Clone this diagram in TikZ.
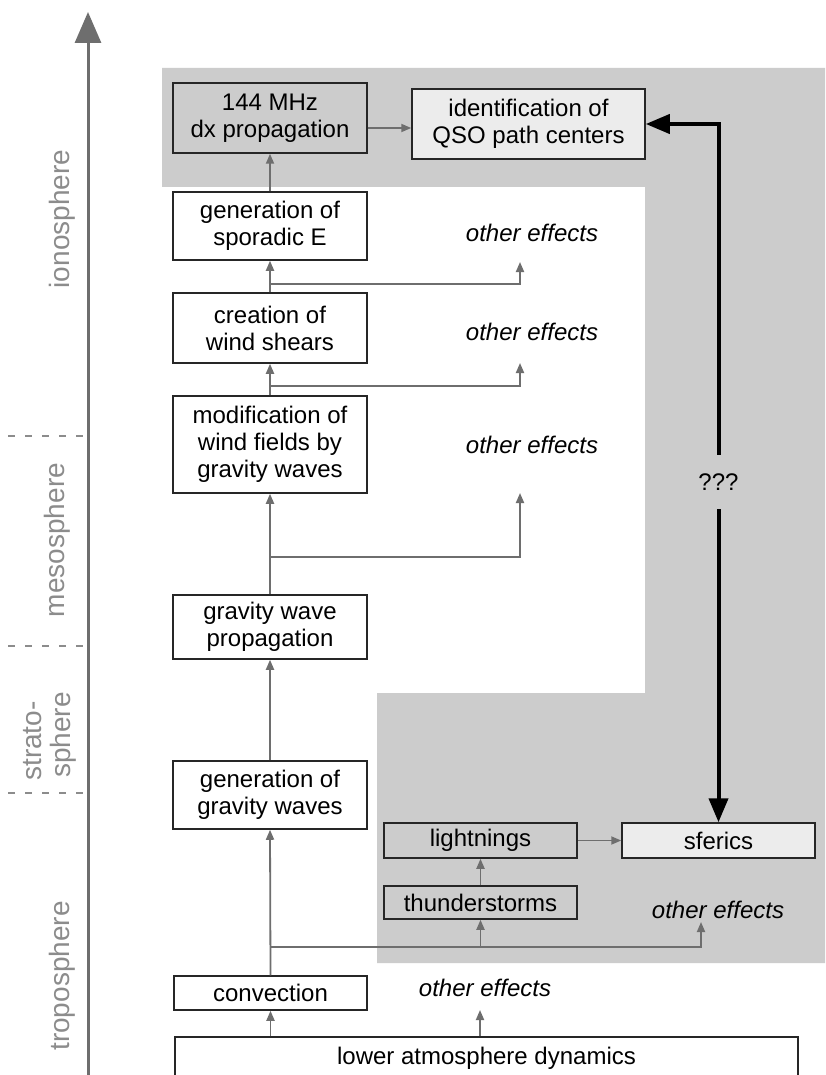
\documentclass[tikz,border=0pt]{standalone}
\usepackage{fontspec}
\setmainfont{Liberation Sans}
\usetikzlibrary{arrows.meta}
\definecolor{bg}{HTML}{CCCCCC}
\definecolor{lite}{HTML}{ECECEC}
\definecolor{agray}{HTML}{6E6E6E}
\definecolor{lgray}{HTML}{8C8C8C}
\begin{document}
\begin{tikzpicture}[x=1pt,y=-1pt,
 box/.style={draw=black!85,line width=1.5pt,fill=white,align=center,inner sep=0pt,font=\fontsize{24}{27}\selectfont},
 oe/.style={font=\fontsize{24}{27}\selectfont\itshape,inner sep=0pt},
 conn/.style={draw=agray,line width=1.8pt,-{Triangle[length=10pt,width=8pt]}},
 layer/.style={font=\fontsize{28}{30}\selectfont,text=lgray,rotate=90,inner sep=0pt},
 sep/.style={draw=lgray,line width=1.4pt,dash pattern=on 7pt off 10pt},
 blk/.style={draw=black,line width=4pt,{Triangle[length=24pt,width=19pt]}-{Triangle[length=24pt,width=19pt]}}
]
\useasboundingbox (0,0) rectangle (825,1075);
\fill[white] (0,0) rectangle (825,1075);
% gray regions
\fill[bg] (162,68) -- (825,68) -- (825,963) -- (377,963) -- (377,693) -- (645,693) -- (645,187) -- (162,187) -- cycle;

% axis
\coordinate (ax0) at (88,1078);
\coordinate (ax1) at (88,12);
\draw[line width=3pt,agray,-{Triangle[length=31pt,width=26pt]}] (ax0) -- (ax1);
\coordinate (d1a) at (8,436); \coordinate (d1b) at (88,436);
\coordinate (d2a) at (8,646); \coordinate (d2b) at (88,646);
\coordinate (d3a) at (8,793); \coordinate (d3b) at (88,793);
\draw[sep] (d1a) -- (d1b);
\draw[sep] (d2a) -- (d2b);
\draw[sep] (d3a) -- (d3b);
\node[layer] (l1) at (62,219) {ionosphere};
\node[layer] (l2) at (57,540) {mesosphere};
\node[layer] (l3a) at (33,741) {strato-};
\node[layer] (l3b) at (63,735) {sphere};
\node[layer] (l4) at (62,976) {troposphere};

% boxes
\node[box,fill=bg,minimum width=194pt,minimum height=70pt] (pm) at (270,118) {144 MHz\\dx propagation};
\node[box,fill=lite,minimum width=233pt,minimum height=70pt] (id) at (528.5,124) {identification of\\QSO path centers};
\node[box,minimum width=194pt,minimum height=68pt] (se) at (270,226) {generation of\\sporadic E};
\node[box,minimum width=194pt,minimum height=70pt] (ws) at (270,328) {creation of\\wind shears};
\node[box,minimum width=194pt,minimum height=97pt] (mf) at (270,444.5) {modification of\\wind fields by\\gravity waves};
\node[box,minimum width=194pt,minimum height=64pt] (gp) at (270,627) {gravity wave\\propagation};
\node[box,minimum width=194pt,minimum height=68pt] (gg) at (270,795) {generation of\\gravity waves};
\node[box,fill=bg,minimum width=193pt,minimum height=35pt] (lt) at (480.5,840.5) {lightnings};
\node[box,fill=lite,minimum width=193pt,minimum height=35pt] (sf) at (718.5,840.5) {sferics};
\node[box,fill=bg,minimum width=193pt,minimum height=33pt] (th) at (480.5,902.5) {thunderstorms};
\node[box,minimum width=193pt,minimum height=34pt] (cv) at (270.5,993) {convection};
\node[box,minimum width=623pt,minimum height=42pt] (la) at (486.5,1058) {lower atmosphere dynamics};

% other effects
\node[oe] (oe1) at (532,233) {other effects};
\node[oe] (oe2) at (532,332) {other effects};
\node[oe] (oe3) at (532,445) {other effects};
\node[oe] (oe5) at (718,910) {other effects};
\node[oe] (oe6) at (485,988) {other effects};
\coordinate (t1) at (520,262);
\coordinate (t2) at (520,363);
\coordinate (t3) at (520,493);
\coordinate (t5) at (701,922);
\coordinate (t6) at (480,1010);
\coordinate (b1) at (270,284);
\coordinate (b2) at (270,386);
\coordinate (b3) at (270,557);
\coordinate (b0) at (270,947);

% connectors
\draw[conn] (la.north -| cv) -- (cv.south);
\draw[conn] (la.north -| t6) -- (t6);
\draw[conn] (cv.north) -- (gg.south);
\draw[conn] (b0) -| (t5);
\draw[conn] (b0 -| th) -- (th.south);
\draw[conn] (th.north) -- (lt.south);
\draw[conn] (lt.east) -- (sf.west);
\draw[conn] (gg.north) -- (gp.south);
\draw[conn] (gp.north) -- (mf.south);
\draw[conn] (b3) -| (t3);
\draw[conn] (mf.north) -- (ws.south);
\draw[conn] (b2) -| (t2);
\draw[conn] (ws.north) -- (se.south);
\draw[conn] (b1) -| (t1);
\draw[conn] (se.north) -- (pm.south);
\draw[conn] ([yshift=-10pt]pm.east) -- ([yshift=-4pt]id.west);

% black double arrow
\draw[blk] (id.east) -| (sf.north);
\node[fill=bg,inner xsep=4pt,minimum height=54pt,font=\fontsize{24}{27}\selectfont] (q) at (sf.north |- 0,482) {???};
\end{tikzpicture}
\end{document}
